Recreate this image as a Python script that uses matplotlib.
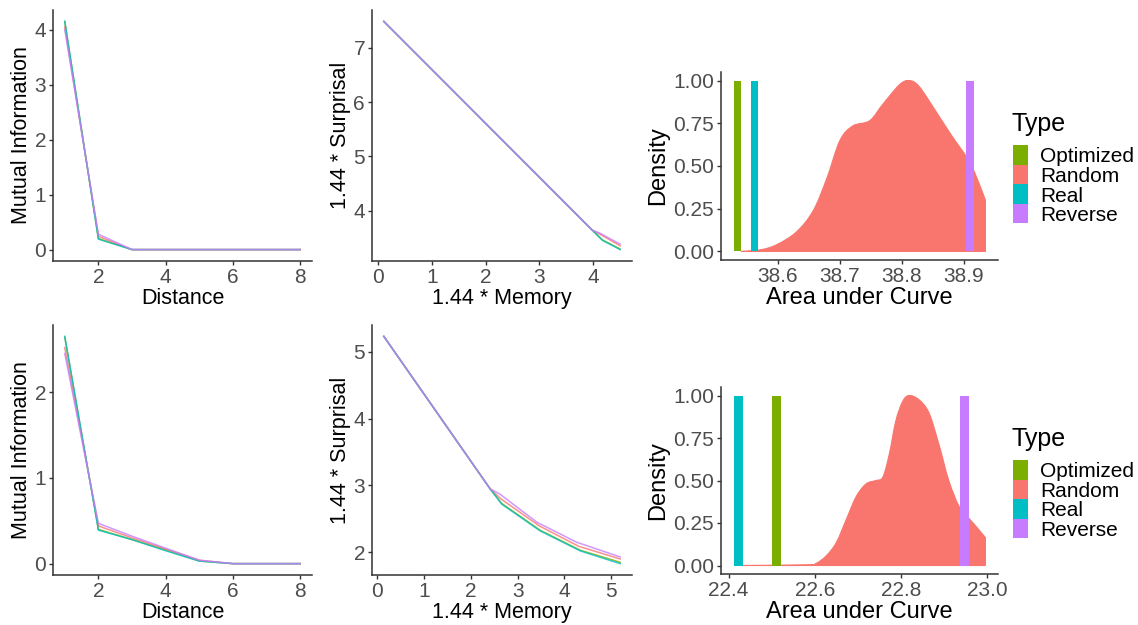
import numpy as np
import matplotlib
matplotlib.use("Agg")
import matplotlib.pyplot as plt
from matplotlib.patches import Rectangle, PathPatch
from matplotlib.path import Path

plt.rcParams['font.family'] = ['Liberation Sans', 'DejaVu Sans']

# ---------------- data ----------------
types = ["Optimized", "Random", "Real", "Reverse"]
colors = {"Optimized": "#7CAE00", "Random": "#F8766D", "Real": "#00BFC4", "Reverse": "#C77CFF"}

distance = [1, 2, 3, 4, 5, 6, 7, 8]

# Top row
mi_top = {
    "Optimized": [4.15, 0.20, 0, 0, 0, 0, 0, 0],
    "Real":      [4.15, 0.19, 0, 0, 0, 0, 0, 0],
    "Random":    [4.05, 0.24, 0, 0, 0, 0, 0, 0],
    "Reverse":   [4.00, 0.28, 0, 0, 0, 0, 0, 0],
}
mem_top = {
    "Optimized": [0.11, 3.98, 4.17, 4.50],
    "Real":      [0.11, 3.98, 4.17, 4.50],
    "Random":    [0.11, 3.98, 4.15, 4.50],
    "Reverse":   [0.11, 3.98, 4.13, 4.50],
}
surp_top = {
    "Optimized": [7.49, 3.64, 3.46, 3.29],
    "Real":      [7.49, 3.64, 3.45, 3.28],
    "Random":    [7.49, 3.64, 3.55, 3.35],
    "Reverse":   [7.49, 3.64, 3.58, 3.38],
}
auc_top_x = [38.540, 38.572, 38.598, 38.630, 38.657, 38.679, 38.700, 38.721, 38.748,
             38.769, 38.796, 38.812, 38.828, 38.855, 38.881, 38.905, 38.919, 38.935]
auc_top_d = [0.00, 0.01, 0.04, 0.115, 0.24, 0.43, 0.65, 0.735, 0.765,
             0.86, 0.975, 1.00, 0.965, 0.82, 0.675, 0.55, 0.45, 0.30]
bars_top = {"Optimized": 38.534, "Real": 38.5625, "Reverse": 38.910}
bar_w_top = 0.0117

# Bottom row
mi_bot = {
    "Optimized": [2.64, 0.40, 0.28, 0.16, 0.03, 0, 0, 0],
    "Real":      [2.65, 0.39, 0.28, 0.15, 0.03, 0, 0, 0],
    "Random":    [2.52, 0.44, 0.30, 0.17, 0.04, 0, 0, 0],
    "Reverse":   [2.45, 0.47, 0.32, 0.18, 0.04, 0, 0, 0],
}
mem_bot = {
    "Optimized": [0.14, 2.41, 2.66, 3.48, 4.34, 5.19],
    "Real":      [0.14, 2.41, 2.66, 3.48, 4.34, 5.19],
    "Random":    [0.14, 2.41, 2.64, 3.45, 4.30, 5.19],
    "Reverse":   [0.14, 2.41, 2.62, 3.41, 4.26, 5.19],
}
surp_bot = {
    "Optimized": [5.23, 2.95, 2.73, 2.33, 2.03, 1.85],
    "Real":      [5.23, 2.95, 2.72, 2.32, 2.02, 1.83],
    "Random":    [5.23, 2.95, 2.80, 2.40, 2.09, 1.90],
    "Reverse":   [5.23, 2.95, 2.87, 2.45, 2.15, 1.93],
}
auc_bot_x = [22.432, 22.581, 22.604, 22.627, 22.650, 22.673, 22.696, 22.719, 22.742,
             22.758, 22.773, 22.788, 22.804, 22.819, 22.842, 22.865, 22.888, 22.911,
             22.935, 22.957, 22.977, 22.996]
auc_bot_d = [0.00, 0.004, 0.014, 0.058, 0.135, 0.27, 0.405, 0.48, 0.50,
             0.52, 0.656, 0.85, 0.965, 1.00, 0.975, 0.898, 0.714, 0.50,
             0.347, 0.28, 0.222, 0.164]
bars_bot = {"Real": 22.422, "Optimized": 22.511, "Reverse": 22.947}
bar_w_bot = 0.0208

ticks_auc_top = [38.6, 38.7, 38.8, 38.9]
ticks_auc_bot = [22.4, 22.6, 22.8, 23.0]
ticks_density = [0.0, 0.25, 0.5, 0.75, 1.0]

# ---------------- figure ----------------
W, H = 1138, 625
fig = plt.figure(figsize=(W / 100, H / 100), dpi=100)

AX_COL = "#333333"
TICK_COL = "#4D4D4D"
TICK_FS = 15
TITLE_FS = 15.5


def add_ax(left, right, top, bottom):
    return fig.add_axes([left / W, 1 - bottom / H, (right - left) / W, (bottom - top) / H])


def style(ax):
    for s in ["top", "right"]:
        ax.spines[s].set_visible(False)
    for s in ["left", "bottom"]:
        ax.spines[s].set_color(AX_COL)
        ax.spines[s].set_linewidth(1.1)
    ax.tick_params(colors=AX_COL, labelcolor=TICK_COL, labelsize=TICK_FS,
                   length=3, width=1.0, pad=2)
    ax.set_facecolor("white")


def expand(vals, f=0.05):
    lo, hi = min(vals), max(vals)
    r = hi - lo
    return lo - f * r, hi + f * r


def line_panel(ax, xs, ys, xlabel, ylabel, xticks, yticks):
    allx, ally = [], []
    for t in types:
        x = xs[t] if isinstance(xs, dict) else xs
        ax.plot(x, ys[t], color=colors[t], lw=1.1, alpha=0.8, solid_joinstyle="round")
        allx += list(x)
        ally += list(ys[t])
    ax.set_xlim(*expand(allx))
    ax.set_ylim(*expand(ally))
    ax.set_xticks(xticks)
    ax.set_yticks(yticks)
    ax.set_xlabel(xlabel, fontsize=TITLE_FS, labelpad=1)
    ax.set_ylabel(ylabel, fontsize=TITLE_FS, labelpad=2)
    style(ax)


def smooth_area_path(xs, ys):
    """Closed area path whose upper edge is drawn as a Catmull-Rom curve through the read points."""
    pts = np.column_stack([xs, ys]).astype(float)
    n = len(pts)
    verts = [(pts[0, 0], 0.0), tuple(pts[0])]
    codes = [Path.MOVETO, Path.LINETO]
    for i in range(n - 1):
        p0 = pts[max(i - 1, 0)]
        p1 = pts[i]
        p2 = pts[i + 1]
        p3 = pts[min(i + 2, n - 1)]
        c1 = p1 + (p2 - p0) / 6.0
        c2 = p2 - (p3 - p1) / 6.0
        verts += [tuple(c1), tuple(c2), tuple(p2)]
        codes += [Path.CURVE4] * 3
    verts += [(pts[-1, 0], 0.0), (pts[0, 0], 0.0)]
    codes += [Path.LINETO, Path.CLOSEPOLY]
    return Path(verts, codes)


def density_panel(ax, dx, dd, bars, bw, xticks):
    patch = PathPatch(smooth_area_path(dx, dd), facecolor=colors["Random"],
                      edgecolor=colors["Random"], lw=0.8)
    ax.add_patch(patch)
    for t, v in bars.items():
        ax.bar(v, 1.0, width=bw, color=colors[t], lw=0)
    allx = list(dx) + [v - bw / 2 for v in bars.values()] + [v + bw / 2 for v in bars.values()]
    ax.set_xlim(*expand(allx))
    ax.set_ylim(-0.05, 1.05)
    ax.set_xticks(xticks)
    ax.set_xticklabels([f"{v:.1f}" for v in xticks])
    ax.set_yticks(ticks_density)
    ax.set_yticklabels([f"{v:.2f}" for v in ticks_density])
    ax.set_xlabel("Area under Curve", fontsize=17, labelpad=1)
    ax.set_ylabel("Density", fontsize=17, labelpad=3)
    style(ax)


def legend(key_top):
    # title
    fig.text(1012 / W, 1 - (key_top - 14) / H, "Type", fontsize=18, ha="left",
             va="baseline", color="black")
    kh = 19.6
    for i, t in enumerate(types):
        y0 = key_top + i * kh
        fig.patches.append(Rectangle((1013 / W, 1 - (y0 + kh) / H), 14.5 / W, kh / H,
                                     transform=fig.transFigure, facecolor=colors[t],
                                     edgecolor="none"))
        fig.text(1040 / W, 1 - (y0 + kh / 2) / H, t, fontsize=15, ha="left",
                 va="center_baseline", color="black")


# top row
ax1 = add_ax(53, 312, 10, 261)
line_panel(ax1, distance, mi_top, "Distance", "Mutual Information", [2, 4, 6, 8], [0, 1, 2, 3, 4])
ax2 = add_ax(372, 632, 10, 261)
line_panel(ax2, mem_top, surp_top, "1.44 * Memory", "1.44 * Surprisal", [0, 1, 2, 3, 4], [4, 5, 6, 7])
ax3 = add_ax(721, 998, 72, 260)
density_panel(ax3, auc_top_x, auc_top_d, bars_top, bar_w_top, ticks_auc_top)

# bottom row
ax4 = add_ax(53, 312, 325, 575)
line_panel(ax4, distance, mi_bot, "Distance", "Mutual Information", [2, 4, 6, 8], [0, 1, 2])
ax5 = add_ax(372, 632, 325, 575)
line_panel(ax5, mem_bot, surp_bot, "1.44 * Memory", "1.44 * Surprisal", [0, 1, 2, 3, 4, 5], [2, 3, 4, 5])
ax6 = add_ax(721, 998, 387, 574)
density_panel(ax6, auc_bot_x, auc_bot_d, bars_bot, bar_w_bot, ticks_auc_bot)

legend(145)
legend(460)

fig.savefig("out.png", dpi=100, facecolor="white")
